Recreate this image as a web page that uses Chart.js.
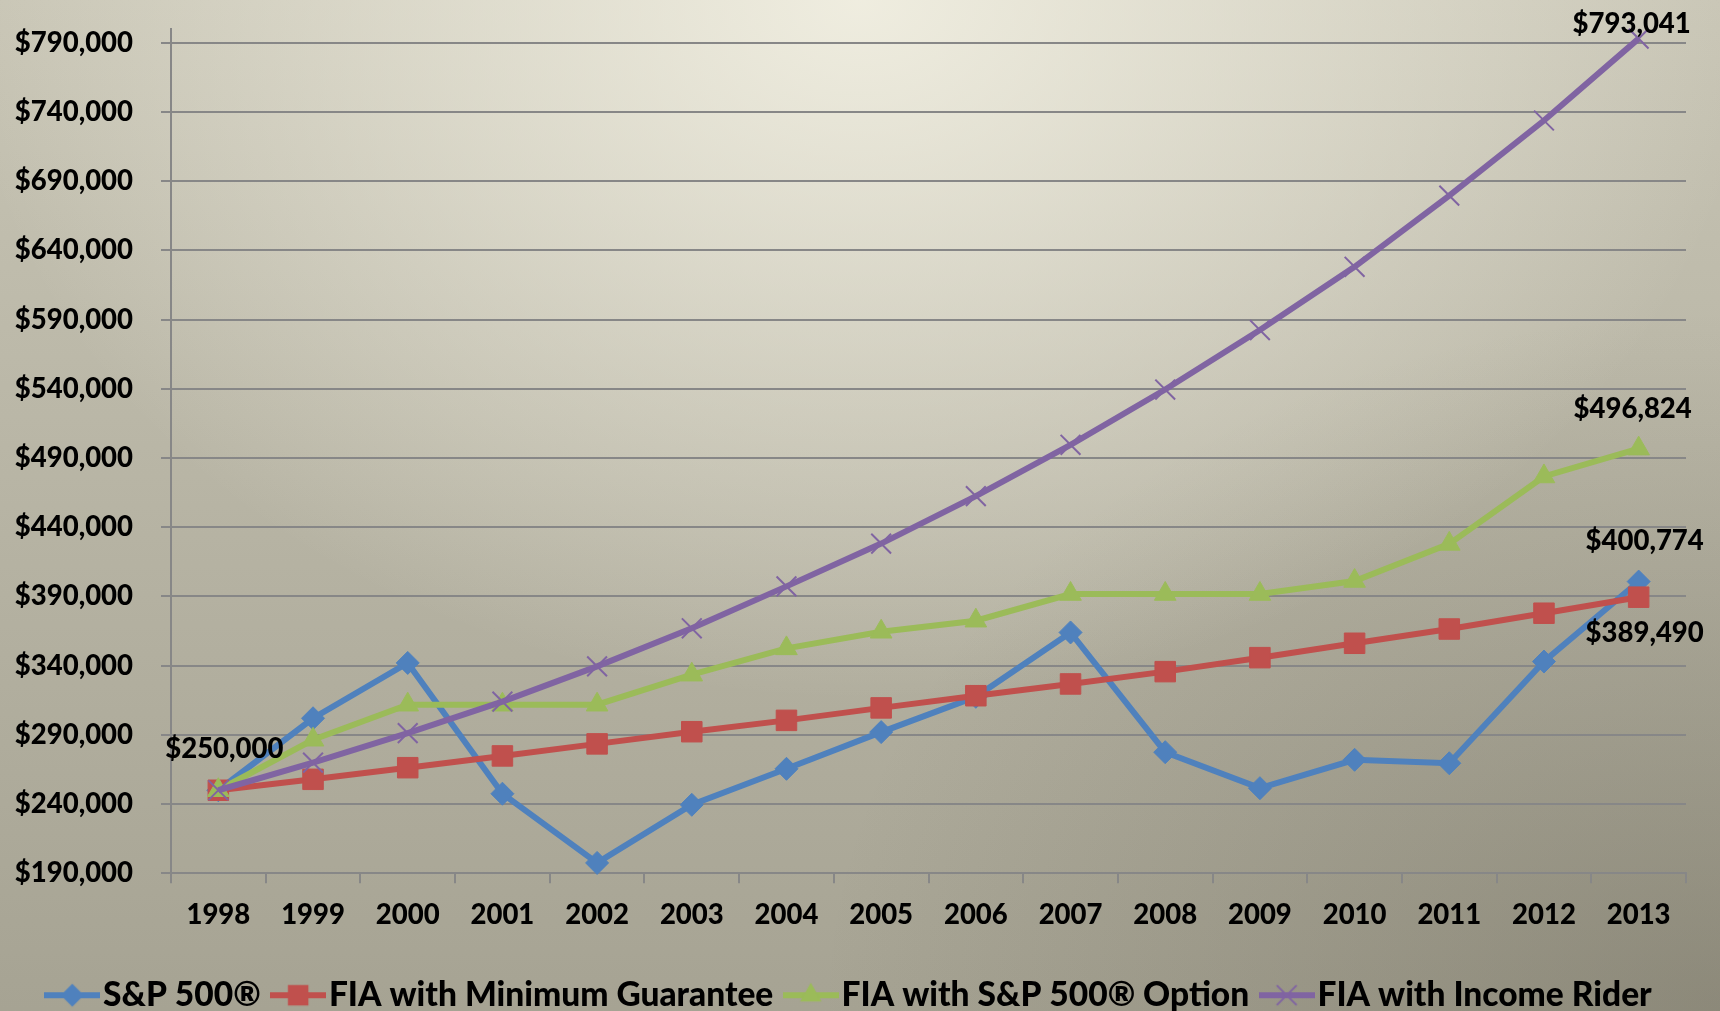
<!DOCTYPE html>
<html>
<head>
<meta charset="utf-8">
<title>Growth of $250,000: S&amp;P 500® vs FIA</title>
<script src="https://cdn.jsdelivr.net/npm/chart.js@4.4.1/dist/chart.umd.min.js"></script>
<style>
  html, body { margin: 0; padding: 0; width: 1720px; height: 1011px; overflow: hidden; }
  body {
    background:
      radial-gradient(ellipse 900px 700px at 860px 0px, rgba(246,244,231,0.85) 0%, rgba(246,244,231,0) 100%),
      radial-gradient(ellipse 900px 700px at 1720px 1011px, rgba(80,76,62,0.3) 0%, rgba(80,76,62,0) 100%),
      linear-gradient(to bottom, #c8c5b5 0%, #a6a393 100%);
  }
  #wrap { position: relative; width: 1720px; height: 1022px; }
</style>
</head>
<body>
<div id="wrap"><canvas id="chart"></canvas></div>
<script>
// Year-end account values
const years = ['1998', '1999', '2000', '2001', '2002', '2003', '2004', '2005',
               '2006', '2007', '2008', '2009', '2010', '2011', '2012', '2013'];

const sp500 = [250000, 302000, 342000, 247500, 197500, 239500, 265500, 292000,
               317500, 364000, 277500, 251500, 272000, 269500, 343000, 400774];

const fiaMinimumGuarantee = [250000, 257900, 266300, 274800, 283500, 292300, 300500, 309500,
                             318300, 326800, 335700, 345800, 356200, 366500, 377900, 389490];

const fiaSp500Option = [250000, 286500, 311800, 311800, 311800, 333500, 352500, 364500,
                        372500, 391800, 391800, 391800, 401200, 428000, 476700, 496824];

const fiaIncomeRider = [250000, 270000, 291300, 314000, 339500, 367000, 397300, 428200,
                        462500, 499600, 539500, 582500, 628200, 679600, 733900, 793041];

const seriesNames = ['S&P 500®', 'FIA with Minimum Guarantee', 'FIA with S&P 500® Option', 'FIA with Income Rider'];

const yTickValues = [190000, 240000, 290000, 340000, 390000, 440000, 490000,
                     540000, 590000, 640000, 690000, 740000, 790000];
const yMin = 190000;
const yMax = 800000;

// ---- styling ----
const FONT = 'Lato, "Open Sans", "DejaVu Sans", sans-serif';
const WEIGHT = '900';
const TICK_SIZE = 27.5;
const LEGEND_SIZE = 33.5;
const GRID = '#878787';
const COLORS = ['#4F81BD', '#C0504D', '#9BBB59', '#8064A2'];
const SHAPES = ['rectRot', 'rect', 'triangle', 'crossRot'];
const RADII = [11.5, 14.5, 12.5, 14];
const LEGEND_SHIFT = 24;

const fmtMoney = v => '$' + Math.round(v).toLocaleString('en-US');

// Small shape painter used for the legend swatches
function paintShape(ctx, shape, x, y, r, color) {
  ctx.save();
  ctx.fillStyle = color;
  ctx.strokeStyle = color;
  ctx.beginPath();
  if (shape === 'rectRot') {
    ctx.moveTo(x, y - r); ctx.lineTo(x + r, y); ctx.lineTo(x, y + r); ctx.lineTo(x - r, y);
    ctx.closePath(); ctx.fill();
  } else if (shape === 'rect') {
    const s = r * Math.SQRT1_2;
    ctx.rect(x - s, y - s, 2 * s, 2 * s); ctx.fill();
  } else if (shape === 'triangle') {
    const w = r * Math.sqrt(3) / 2;
    ctx.moveTo(x, y - r); ctx.lineTo(x + w, y + r / 2); ctx.lineTo(x - w, y + r / 2);
    ctx.closePath(); ctx.fill();
  } else if (shape === 'crossRot') {
    const s = r * Math.SQRT1_2;
    ctx.lineWidth = 2;
    ctx.moveTo(x - s, y - s); ctx.lineTo(x + s, y + s);
    ctx.moveTo(x + s, y - s); ctx.lineTo(x - s, y + s);
    ctx.stroke();
  }
  ctx.restore();
}

// Legend swatch: line segment with its marker in the middle
function legendSwatch(i) {
  const c = document.createElement('canvas');
  c.width = 56; c.height = 32;
  const ctx = c.getContext('2d');
  ctx.strokeStyle = COLORS[i];
  ctx.lineWidth = 6;
  ctx.beginPath(); ctx.moveTo(0, 16); ctx.lineTo(56, 16); ctx.stroke();
  paintShape(ctx, SHAPES[i], 28, 16, RADII[i], COLORS[i]);
  return c;
}

// Value callouts next to selected points
const callouts = [
  { series: 0, index: 0,  dx: 6,  dy: -32 },
  { series: 3, index: 15, dx: -7, dy: -5.6 },
  { series: 2, index: 15, dx: -6, dy: -31 },
  { series: 0, index: 15, dx: 6,  dy: -32 },
  { series: 1, index: 15, dx: 6,  dy: 45 }
];

const calloutPlugin = {
  id: 'callouts',
  afterDraw(chart) {
    const ctx = chart.ctx;
    ctx.save();
    ctx.font = WEIGHT + ' ' + TICK_SIZE + 'px ' + FONT;
    ctx.fillStyle = '#000';
    ctx.textAlign = 'center';
    ctx.textBaseline = 'alphabetic';
    callouts.forEach(c => {
      const pt = chart.getDatasetMeta(c.series).data[c.index];
      const value = chart.data.datasets[c.series].data[c.index];
      ctx.fillText(fmtMoney(value), pt.x + c.dx, pt.y + c.dy);
    });
    ctx.restore();
  }
};

// Nudge the legend row a little to the right of the canvas centre
const legendOffsetPlugin = {
  id: 'legendOffset',
  afterLayout(chart) {
    if (chart.legend) chart.legend.left += LEGEND_SHIFT;
  }
};

function build() {
  const seriesData = [sp500, fiaMinimumGuarantee, fiaSp500Option, fiaIncomeRider];
  const swatches = seriesData.map((_, i) => legendSwatch(i));

  const datasets = seriesData.map((d, i) => ({
    label: seriesNames[i],
    data: d,
    borderColor: COLORS[i],
    backgroundColor: COLORS[i],
    borderWidth: 6,
    tension: 0,
    pointStyle: SHAPES[i],
    pointRadius: RADII[i],
    pointHoverRadius: RADII[i],
    pointBorderWidth: SHAPES[i] === 'crossRot' ? 2 : 1,
    pointBackgroundColor: COLORS[i],
    pointBorderColor: COLORS[i],
    order: 4 - i,
    clip: false
  }));

  new Chart(document.getElementById('chart'), {
    type: 'line',
    data: { labels: years, datasets },
    plugins: [calloutPlugin, legendOffsetPlugin],
    options: {
      responsive: true,
      maintainAspectRatio: false,
      animation: false,
      events: [],
      layout: { padding: { top: 29, right: 34, left: 0, bottom: 0 } },
      scales: {
        x: {
          offset: true,
          grid: { display: true, drawOnChartArea: false, drawTicks: true, tickLength: 10,
                  offset: true, color: GRID, lineWidth: 2 },
          border: { display: true, color: GRID, width: 2 },
          ticks: { color: '#000', font: { family: FONT, size: TICK_SIZE, weight: WEIGHT },
                   padding: 15, maxRotation: 0, autoSkip: false },
          afterFit(scale) { scale.height = 81.7; scale.paddingLeft = 0; scale.paddingRight = 0; }
        },
        y: {
          min: yMin,
          max: yMax,
          afterBuildTicks(scale) { scale.ticks = yTickValues.map(v => ({ value: v })); },
          grid: { color: GRID, lineWidth: 2, tickLength: 10 },
          border: { display: true, color: GRID, width: 2 },
          ticks: { color: '#000', font: { family: FONT, size: TICK_SIZE, weight: WEIGHT },
                   padding: 28, callback: v => fmtMoney(v) },
          afterFit(scale) {
            scale.width = 171;
            scale.paddingTop = 0;
            scale.paddingBottom = 0;
          }
        }
      },
      plugins: {
        tooltip: { enabled: false },
        legend: {
          position: 'bottom',
          labels: {
            color: '#000',
            font: { family: FONT, size: LEGEND_SIZE, weight: WEIGHT },
            usePointStyle: true,
            pointStyleWidth: 28,
            padding: 23.5,
            sort: (a, b) => a.datasetIndex - b.datasetIndex,
            generateLabels(chart) {
              const items = Chart.defaults.plugins.legend.labels.generateLabels(chart);
              items.forEach(it => { it.pointStyle = swatches[it.datasetIndex]; it.lineWidth = 0; });
              return items;
            }
          }
        }
      }
    }
  });
}

if (document.fonts && document.fonts.load) {
  Promise.all([
    document.fonts.load(WEIGHT + ' 28px Lato'),
    document.fonts.load(WEIGHT + ' 34px Lato')
  ]).then(build, build);
} else {
  build();
}
</script>
</body>
</html>
